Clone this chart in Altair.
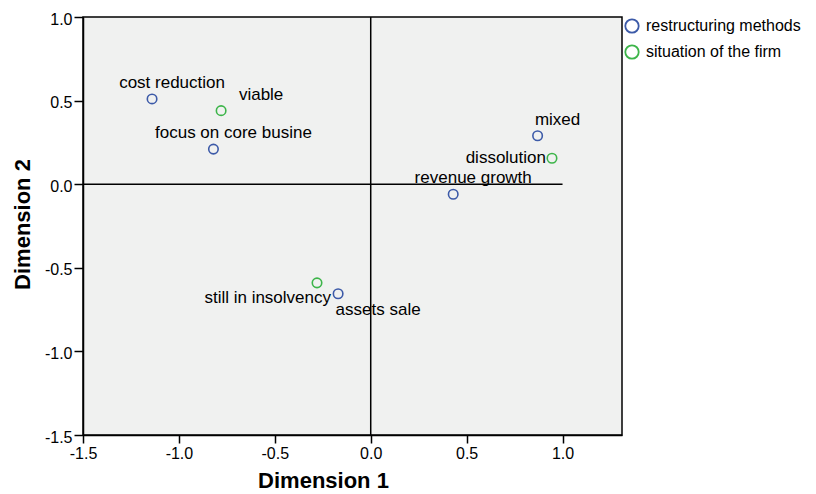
import altair as alt
import pandas as pd

# ---- data ----
labels = ["cost reduction", "focus on core busine", "mixed", "revenue growth", "assets sale",
          "viable", "dissolution", "still in insolvency"]
dim1 = [-1.14, -0.82, 0.87, 0.43, -0.17, -0.78, 0.945, -0.28]
dim2 = [0.51, 0.21, 0.29, -0.06, -0.655, 0.44, 0.155, -0.59]
groups = ["restructuring methods"] * 5 + ["situation of the firm"] * 3

x_ticks = [-1.5, -1.0, -0.5, 0.0, 0.5, 1.0]
y_ticks = [-1.5, -1.0, -0.5, 0.0, 0.5, 1.0]

df = pd.DataFrame({"label": labels, "d1": dim1, "d2": dim2, "group": groups})

# label placement (style, not data): (align, dx, dy)
label_style = {
    "cost reduction": ("center", 20, -16),
    "focus on core busine": ("center", 20, -16),
    "mixed": ("center", 20, -16),
    "revenue growth": ("center", 20, -16),
    "assets sale": ("center", 40, 16),
    "viable": ("center", 40, -16),
    "dissolution": ("right", -6, 0),
    "still in insolvency": ("right", 14, 15),
}

FONT = "Liberation Sans"
BLUE = "#3C5AA8"
GREEN = "#3DB54A"
LABEL_EXPR = "(datum.value < 0 ? '-' : '') + format(abs(datum.value), '.1f')"

xscale = alt.Scale(domain=[-1.5, 1.31], nice=False, zero=False)
yscale = alt.Scale(domain=[-1.5, 1.0], nice=False, zero=False)

xaxis = alt.Axis(values=x_ticks, labelExpr=LABEL_EXPR, grid=False, title="Dimension 1",
                 titleFontSize=22, titleFontWeight="bold", titleFont=FONT, titleColor="black",
                 titleX=240, titleY=52, titleAlign="center", titleBaseline="alphabetic",
                 labelFontSize=16, labelFont=FONT, labelColor="black",
                 tickSize=8, tickColor="black", tickWidth=1.5, domainColor="black",
                 domainWidth=1.5, labelPadding=2, labelFlush=False)
yaxis = alt.Axis(values=y_ticks, labelExpr=LABEL_EXPR, grid=False, title="Dimension 2",
                 titleFontSize=22, titleFontWeight="bold", titleFont=FONT, titleColor="black",
                 titleX=-54, titleY=207, titleAlign="center", titleBaseline="alphabetic",
                 titleAngle=-90,
                 labelFontSize=16, labelFont=FONT, labelColor="black",
                 tickSize=9, tickColor="black", tickWidth=1.5, domainColor="black",
                 domainWidth=1.5, labelPadding=2, labelOffset=2, labelFlush=False)

base = alt.Chart(df)

vline = alt.Chart(pd.DataFrame({"x": [0.0], "y": [-1.5], "y2": [1.0]})).mark_rule(
    color="black", strokeWidth=1.5).encode(
    x=alt.X("x:Q", scale=xscale, axis=xaxis),
    y=alt.Y("y:Q", scale=yscale, axis=yaxis),
    y2="y2:Q")
hline = alt.Chart(pd.DataFrame({"y": [0.0], "x": [-1.5], "x2": [1.0]})).mark_rule(
    color="black", strokeWidth=1.5).encode(
    y=alt.Y("y:Q", scale=yscale),
    x=alt.X("x:Q", scale=xscale),
    x2="x2:Q")

points = base.mark_point(shape="circle", filled=False, size=90, strokeWidth=1.6, opacity=1).encode(
    x=alt.X("d1:Q", scale=xscale),
    y=alt.Y("d2:Q", scale=yscale),
    color=alt.Color("group:N",
                    scale=alt.Scale(domain=["restructuring methods", "situation of the firm"],
                                    range=[BLUE, GREEN]),
                    legend=alt.Legend(title=None, orient="none", legendX=541, legendY=1,
                                      symbolSize=180, symbolStrokeWidth=1.8, symbolType="circle",
                                      symbolFillColor="transparent",
                                      labelFontSize=16, labelFont=FONT, labelColor="black",
                                      labelOffset=6, rowPadding=4, padding=0,
                                      labelLimit=400)),
)

texts = []
for lab in labels:
    align, dx, dy = label_style[lab]
    texts.append(
        base.transform_filter(alt.datum.label == lab).mark_text(
            align=align, baseline="middle", dx=dx, dy=dy,
            fontSize=17, font=FONT, color="black").encode(
            x=alt.X("d1:Q", scale=xscale),
            y=alt.Y("d2:Q", scale=yscale),
            text="label:N")
    )

chart = alt.layer(vline, hline, points, *texts).properties(
    width=539, height=418,
    autosize=alt.AutoSizeParams(type="none"),
    padding={"left": 75, "top": 9, "right": 186, "bottom": 58},
    background="white",
).configure_view(fill="#F0F1F0", stroke="black", strokeWidth=1.5)

chart.save("out.html", embed_options={"renderer": "svg", "actions": False})
